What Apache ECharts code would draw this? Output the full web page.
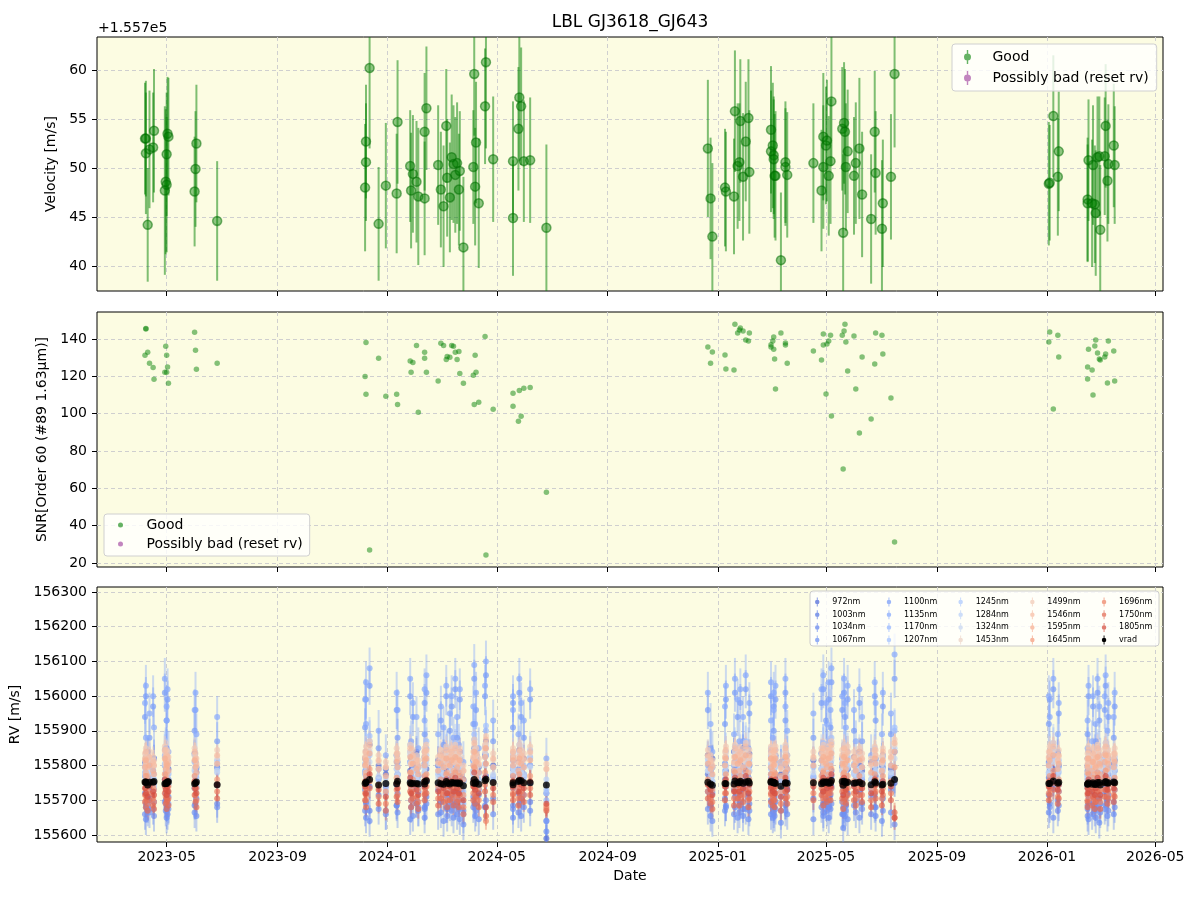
<!DOCTYPE html>
<html>
<head>
<meta charset="utf-8">
<title>LBL GJ3618_GJ643</title>
<script src="https://cdn.jsdelivr.net/npm/echarts@6/dist/echarts.min.js"></script>
<style>
  html, body { margin: 0; padding: 0; background: #fff; }
  #chart { width: 1200px; height: 900px; }
</style>
</head>
<body>
<div id="chart"></div>
<script>
// observation dates (one per spectrum)
const dates = [
  '2023-04-07','2023-04-08','2023-04-08','2023-04-10','2023-04-12','2023-04-16','2023-04-17','2023-04-29','2023-04-30','2023-05-01',
  '2023-05-01','2023-05-02','2023-05-03','2023-06-01','2023-06-02','2023-06-03','2023-06-26',
  '2023-12-07','2023-12-08','2023-12-08','2023-12-12','2023-12-22','2023-12-30','2024-01-11','2024-01-12','2024-01-26','2024-01-27',
  '2024-01-29','2024-02-02','2024-02-04','2024-02-11','2024-02-11','2024-02-13','2024-02-26','2024-02-29','2024-03-03','2024-03-06',
  '2024-03-07','2024-03-10','2024-03-12','2024-03-14','2024-03-16','2024-03-18','2024-03-20','2024-03-21','2024-03-25','2024-04-05',
  '2024-04-06','2024-04-07','2024-04-08','2024-04-11','2024-04-18','2024-04-19','2024-04-27','2024-05-19','2024-05-19','2024-05-25',
  '2024-05-26','2024-05-28','2024-05-31','2024-06-07','2024-06-25',
  '2024-12-21','2024-12-24','2024-12-26','2025-01-09','2025-01-10','2025-01-19','2025-01-20','2025-01-23','2025-01-25','2025-01-26',
  '2025-01-29','2025-02-01','2025-02-04','2025-02-05','2025-03-01','2025-03-01','2025-03-03','2025-03-04','2025-03-04','2025-03-05',
  '2025-03-06','2025-03-12','2025-03-17','2025-03-17','2025-03-19','2025-04-17','2025-04-26','2025-04-28','2025-04-28','2025-05-01',
  '2025-05-02','2025-05-04','2025-05-06','2025-05-07','2025-05-19','2025-05-20','2025-05-21','2025-05-22','2025-05-23','2025-05-25',
  '2025-06-01','2025-06-03','2025-06-07','2025-06-10','2025-06-20','2025-06-24','2025-06-25','2025-07-02','2025-07-03','2025-07-12',
  '2025-07-16',
  '2026-01-03','2026-01-04','2026-01-08','2026-01-13','2026-01-14','2026-02-15','2026-02-15','2026-02-16','2026-02-20','2026-02-21',
  '2026-02-23','2026-02-24','2026-02-26','2026-02-28','2026-03-01','2026-03-06','2026-03-07','2026-03-09','2026-03-10','2026-03-16',
  '2026-03-17'
];

// all RVs are in m/s relative to this offset (the "+1.557e5" of the top panel)
const rvOffset = 155700;

// velocity (also the vrad series of the bottom panel)
const velocity = [
  53.0,51.5,53.0,44.2,51.9,52.1,53.8,47.7,48.6,48.3,51.4,53.5,53.2,47.6,49.9,52.5,44.6,
  48.0,50.6,52.7,60.2,44.3,48.2,47.4,54.7,50.2,47.7,49.4,48.6,47.1,46.9,53.7,56.1,50.3,47.8,46.1,54.3,
  49.0,47.0,51.1,50.4,49.3,50.5,47.8,49.7,41.9,50.1,59.6,48.1,52.6,46.4,56.3,60.8,50.9,44.9,50.7,54.0,
  57.2,56.3,50.7,50.8,43.9,
  52.0,46.9,43.0,48.0,47.6,47.1,55.8,50.2,50.6,54.8,49.1,52.7,55.1,49.6,53.9,51.7,52.3,51.3,50.9,49.2,
  49.2,40.6,50.6,50.1,49.3,50.5,47.7,53.2,50.1,52.3,52.8,49.2,50.7,56.8,54.0,43.4,54.6,53.7,50.1,51.7,
  49.2,50.5,52.0,47.3,44.8,53.7,49.5,43.8,46.4,49.1,59.6,
  48.4,48.5,55.3,49.1,51.7,46.8,46.4,50.8,46.4,50.3,46.3,45.4,51.1,51.2,43.7,51.2,54.3,48.7,50.4,52.3,50.3
];
const velocityErr = [
  5.7,6.2,5.9,5.8,6.0,5.6,6.3,8.6,7.4,6.9,6.3,5.8,6.0,5.6,5.9,6.0,6.1,
  6.5,6.0,5.8,8.2,5.8,6.4,6.1,6.3,5.7,5.9,6.0,6.2,7.0,5.8,6.0,6.3,6.1,5.9,6.2,5.8,6.0,5.6,6.4,6.0,5.9,
  6.2,5.7,6.1,7.2,5.8,6.3,6.0,6.2,6.6,5.9,8.8,6.4,5.9,6.1,6.3,6.5,6.0,6.2,6.4,8.5,
  7.0,6.2,7.5,6.0,6.1,5.9,6.2,6.4,6.0,6.3,6.5,6.1,6.0,6.3,6.5,6.2,6.4,6.0,6.1,6.3,6.6,6.9,6.2,6.0,6.4,
  6.1,6.2,6.5,6.3,6.0,6.2,6.1,6.4,6.6,6.3,8.0,6.2,6.4,6.5,6.3,6.0,6.2,7.2,6.4,6.6,6.2,6.3,7.0,6.5,6.4,7.5,
  6.3,5.9,6.2,6.0,6.1,6.3,6.0,6.2,6.5,6.1,6.0,6.4,6.2,6.1,6.6,6.0,6.3,6.2,6.1,6.3,6.0
];
// SNR in order 60
const snr = [
  131.3,145.7,145.4,132.9,127.0,124.8,118.4,122.2,136.1,122.2,131.3,125.0,116.3,143.6,134.0,123.8,127.0,
  120.0,138.2,110.4,27.0,129.7,109.3,110.4,105.0,128.2,122.2,127.5,136.6,100.8,129.7,132.9,122.2,117.5,137.7,136.6,129.1,
  130.7,130.2,136.6,136.1,132.9,129.1,133.4,121.6,116.3,120.6,105.0,131.3,122.2,106.1,141.4,24.3,102.4,110.9,104.0,95.9,
  112.5,98.6,113.6,114.1,57.9,
  135.7,127.1,133.0,131.4,123.9,123.4,148.0,143.2,144.8,145.9,144.3,139.5,138.9,143.2,137.0,135.7,138.9,134.6,141.1,129.3,
  113.2,143.2,137.9,136.8,127.1,133.6,128.8,142.7,136.8,110.5,137.3,138.9,142.1,98.8,142.1,70.4,144.3,148.0,138.4,122.9,
  141.6,113.2,89.6,130.4,97.1,126.6,143.2,142.1,132.0,108.4,31.2,
  138.4,143.8,102.5,142.1,130.4,118.6,125.0,134.6,123.4,110.0,136.3,139.5,132.5,129.3,128.8,130.4,132.0,116.4,138.9,133.6,117.5
];

// per-band RVs (m/s relative to rvOffset)
const bandNames = ['972nm','1003nm','1034nm','1067nm','1100nm','1135nm','1170nm','1207nm','1245nm','1284nm',
  '1324nm','1453nm','1499nm','1546nm','1595nm','1645nm','1696nm','1750nm','1805nm'];
const bandErr = [40,38,40,45,55,60,60,55,50,45,40,35,30,28,28,25,25,28,35];

const rv972 = [110,125,95,140,105,85,120,60,130,100,75,115,90,135,110,80,95,
  120,140,90,160,100,75,130,110,85,120,95,140,70,105,125,90,115,80,135,100,120,65,110,90,130,105,85,140,60,115,150,95,120,80,130,170,100,125,90,110,145,85,120,100,-110,
  130,95,120,105,85,140,110,90,125,100,150,80,115,135,95,120,105,140,85,110,130,75,100,120,90,115,135,80,105,125,95,140,110,85,120,60,130,100,115,90,125,105,140,85,110,95,120,100,130,90,50,
  110,125,90,135,100,120,85,140,105,95,130,115,80,125,100,110,135,90,120,105,115];
const rv1003 = [70,45,90,30,65,80,50,100,40,75,55,85,60,35,70,95,45,
  80,55,100,40,65,90,45,75,110,50,85,60,95,40,70,55,100,65,45,80,60,90,50,75,105,40,70,85,55,60,120,45,80,95,65,130,55,90,70,40,85,60,75,50,20,
  75,50,95,60,40,85,70,105,55,80,45,90,65,100,50,75,60,85,45,95,70,110,55,80,40,65,90,50,75,100,60,85,45,70,95,30,80,55,65,90,50,75,100,60,40,85,70,55,95,65,140,
  65,90,50,80,45,75,100,55,85,60,40,95,70,50,80,65,90,45,75,60,85];
const rv1034 = [20,-10,35,-25,5,30,-5,45,0,15,-20,25,10,-15,40,5,-10,
  30,-5,50,-30,15,40,-15,20,55,0,35,-10,25,45,-20,10,30,-5,50,15,-25,35,5,20,-15,40,0,25,-30,10,60,-10,30,15,-20,70,5,35,-15,20,45,0,15,-5,-60,
  25,-15,40,5,-20,30,10,50,-5,20,-25,35,15,-10,45,0,25,-20,40,10,-5,55,20,-15,30,5,45,-10,25,0,35,-20,15,40,-5,-40,30,10,-15,20,45,0,25,-10,35,15,-20,40,5,30,60,
  15,-10,35,0,25,-15,40,10,-5,30,20,-20,45,5,-10,25,35,0,15,-5,30];
const rv1067 = [-40,-20,-55,-10,-35,-25,-45,-5,-30,-50,-15,-40,-25,-35,-10,-45,-20,
  -30,-50,-10,-60,-25,-40,-15,-35,-55,-20,-45,-5,-30,-50,-25,-10,-40,-35,-60,-20,-45,-15,-30,-50,-5,-40,-25,-55,-70,-20,-10,-45,-30,-55,-15,0,-40,-25,-50,-35,-10,-45,-20,-30,-90,
  -25,-45,-60,-30,-15,-40,-20,-50,-35,-10,-45,-25,-55,-30,-15,-40,-50,-20,-35,-45,-25,-65,-30,-10,-40,-55,-20,-35,-45,-15,-30,-50,-25,-10,-40,-80,-20,-45,-30,-55,-15,-35,-50,-25,-40,-20,-45,-60,-30,-35,-70,
  -35,-20,-50,-30,-15,-45,-25,-55,-40,-10,-30,-50,-20,-65,-35,-25,-15,-45,-30,-40,-20];
const rv1100 = [240,60,300,-20,180,270,120,310,20,230,150,290,-10,200,260,90,170,
  210,290,40,330,150,-30,260,180,300,70,240,130,-20,280,190,310,100,230,160,300,10,200,270,120,320,180,50,290,-40,220,350,140,260,30,300,360,170,280,210,90,310,240,180,290,-60,
  260,150,20,220,290,100,310,240,80,280,170,320,40,250,300,140,90,270,200,0,290,-30,230,310,130,180,280,60,320,230,150,290,210,340,260,-20,310,240,130,290,200,70,280,170,10,300,230,110,270,190,350,
  220,290,320,140,250,60,190,300,100,270,20,170,310,230,-10,260,330,120,240,180,270];
const rv1135 = [280,180,330,120,250,300,210,350,150,270,230,320,140,260,310,190,240,
  290,220,340,380,200,130,310,260,350,170,280,240,150,320,230,360,190,270,210,330,140,250,300,180,350,240,160,320,110,270,390,220,310,150,330,400,230,300,260,190,350,280,230,320,120,
  310,220,140,270,330,190,350,290,170,320,240,360,150,280,340,230,180,310,260,120,330,100,270,350,200,250,320,160,360,280,220,340,260,380,300,110,350,280,210,330,260,170,320,240,130,340,280,190,310,250,420,
  300,240,350,190,280,150,230,330,170,300,130,220,350,270,120,300,360,200,280,240,310];
const rv1170 = [80,40,120,20,95,60,30,130,55,105,25,85,45,110,70,35,90,
  85,120,40,170,60,20,110,75,140,35,100,65,25,120,80,150,45,95,70,130,30,85,115,50,145,75,40,120,-10,85,175,55,110,30,135,200,70,115,90,50,140,95,70,125,0,
  100,60,25,85,125,45,140,100,50,115,70,155,35,100,130,65,50,110,80,30,125,10,90,140,55,70,115,45,150,90,65,125,85,165,100,20,140,95,60,125,80,45,115,70,30,130,95,50,105,75,200,
  80,115,150,55,95,35,70,125,45,105,25,65,135,90,20,110,150,55,95,70,100];
const rv1207 = [100,70,135,50,110,85,60,145,80,125,55,105,75,130,95,65,115,
  105,140,65,185,90,50,130,100,160,70,120,90,55,140,105,170,75,115,95,150,60,110,135,80,165,100,70,140,25,110,190,85,130,60,155,215,95,135,115,80,160,120,100,145,30,
  120,85,55,105,140,75,155,120,80,135,95,170,65,120,150,90,80,130,105,60,145,40,110,155,85,95,135,75,165,115,90,145,105,180,120,50,160,115,85,140,105,75,135,95,60,150,115,80,125,100,210,
  105,135,165,85,115,65,95,145,75,125,55,90,150,110,50,130,165,85,115,95,125];
const rv1245 = [70,45,95,30,80,60,40,105,55,90,35,75,50,85,65,40,80,
  75,100,40,130,60,30,90,70,110,45,85,60,35,95,70,115,50,80,65,105,40,75,90,55,110,70,45,95,10,75,135,60,90,40,105,150,65,95,75,55,110,80,65,100,20,
  85,60,35,75,100,50,110,80,55,95,70,120,45,85,105,65,55,90,75,40,100,25,80,110,60,70,90,50,115,80,65,100,75,125,85,30,110,80,60,100,75,50,90,65,40,105,80,55,85,70,140,
  75,95,120,60,80,45,70,100,55,85,40,65,105,80,35,90,115,60,80,70,85];
const rv1284 = [95,80,115,70,105,90,75,125,85,110,70,100,80,110,95,75,105,
  100,120,75,140,90,65,115,95,130,80,110,90,70,115,100,130,85,105,95,125,75,100,115,85,130,95,80,115,55,100,145,90,115,75,125,160,95,115,100,85,130,105,95,120,60,
  110,90,70,100,120,85,130,105,85,115,95,135,80,110,125,95,85,115,100,75,120,65,105,130,90,100,115,85,130,105,95,120,100,140,110,70,130,105,90,120,100,85,115,95,75,125,105,85,110,100,150,
  100,115,135,90,105,80,95,120,85,110,75,95,125,105,70,115,130,90,105,95,110];
const rv1324 = [75,60,90,50,80,70,55,100,65,85,50,80,60,90,75,55,85,
  80,95,55,110,70,50,90,75,105,60,85,70,55,90,80,105,65,85,75,100,55,80,90,65,105,75,60,95,40,80,115,70,90,55,100,130,75,90,80,65,105,85,75,95,45,
  85,70,55,80,95,65,105,85,65,90,75,110,60,85,100,75,65,90,80,60,95,50,85,105,70,80,90,65,105,85,75,95,80,115,85,55,105,85,70,95,80,65,90,75,60,100,85,65,90,80,120,
  80,95,110,70,85,60,75,95,65,90,55,75,100,85,55,90,105,70,85,75,90];
const rv1453 = [115,100,130,95,120,110,100,140,105,125,95,120,105,130,115,100,125,
  120,135,100,150,110,95,130,115,140,105,125,110,95,130,120,140,105,125,115,135,100,120,130,110,140,115,105,130,85,120,155,110,130,100,140,165,115,130,120,105,140,125,115,135,90,
  125,110,95,120,135,105,140,125,105,130,115,145,100,125,135,115,105,130,120,100,135,90,125,140,110,120,130,105,140,125,115,135,120,150,125,95,140,125,110,135,120,105,130,115,100,135,125,105,130,120,160,
  120,135,145,110,125,100,115,135,105,130,95,115,140,125,95,130,145,110,125,115,130];
const rv1499 = [135,120,150,110,140,125,115,155,130,145,115,140,125,150,135,120,145,
  140,155,120,170,130,110,150,135,160,120,145,130,115,150,140,160,125,145,135,155,120,140,150,125,160,135,120,150,100,140,175,130,150,120,160,185,135,150,140,125,160,145,135,155,105,
  145,130,115,140,155,125,160,145,125,150,135,165,120,145,155,135,125,150,140,120,155,110,145,160,130,140,150,125,160,145,135,155,140,170,145,115,160,145,130,155,140,125,150,135,120,155,145,125,150,140,175,
  140,155,165,130,145,120,135,155,125,150,115,135,160,145,115,150,165,130,145,135,150];
const rv1546 = [120,105,140,95,125,110,100,145,115,130,100,125,110,140,120,105,130,
  125,140,105,160,115,95,135,120,150,105,130,115,100,140,125,145,110,130,120,145,105,125,140,110,150,120,105,140,85,125,165,115,135,105,150,175,120,140,125,110,145,130,120,140,90,
  130,115,100,125,145,110,150,130,110,140,120,155,105,130,145,120,110,140,125,105,145,95,130,150,115,125,140,110,150,130,120,145,125,160,130,100,150,130,115,140,125,110,140,120,105,145,130,110,140,125,165,
  125,140,155,115,130,105,120,145,110,135,100,120,150,130,100,135,155,115,130,120,135];
const rv1595 = [95,80,115,70,100,85,75,120,90,105,75,100,85,115,95,80,105,
  100,115,80,135,90,70,110,95,125,80,105,90,75,115,100,120,85,105,95,120,80,100,115,85,125,95,80,115,60,100,140,90,110,80,125,150,95,115,100,85,120,105,95,115,-20,
  105,90,75,100,120,85,125,105,85,115,95,130,80,105,120,95,85,115,100,80,120,70,105,125,90,100,115,85,125,105,95,120,100,135,105,75,125,105,90,115,100,85,115,95,80,120,105,85,115,100,140,
  100,115,130,90,105,80,95,120,85,110,75,95,125,105,75,110,130,90,105,95,110];
const rv1645 = [50,35,70,25,55,40,30,75,45,60,30,55,40,70,50,35,60,
  55,70,35,90,45,25,65,50,80,35,60,45,30,70,55,75,40,60,50,75,35,55,70,40,80,50,35,70,15,55,95,45,65,35,80,105,50,70,55,40,75,60,50,70,-15,
  60,45,30,55,75,40,80,60,40,70,50,85,35,60,75,50,40,70,55,35,75,25,60,80,45,55,70,40,80,60,50,75,55,90,60,30,80,60,45,70,55,40,70,50,35,75,60,40,70,55,95,
  55,70,85,45,60,35,50,75,40,65,30,50,80,60,30,65,85,45,60,50,65];
const rv1696 = [15,0,35,-10,20,5,-5,40,10,25,-5,20,5,35,15,0,25,
  20,35,0,55,10,-10,30,15,45,0,25,10,-5,35,20,40,5,25,15,40,0,20,35,5,45,15,0,35,-20,20,60,10,30,0,45,-60,15,35,20,5,40,25,15,35,-25,
  25,10,-5,20,40,5,45,25,5,35,15,50,0,25,40,15,5,35,20,0,40,-10,25,45,10,20,35,5,45,25,15,40,20,55,25,-5,45,25,10,35,20,5,35,15,0,40,25,5,35,20,-50,
  20,35,50,10,25,0,15,40,5,30,-5,15,45,25,-5,30,50,10,25,15,30];
const rv1750 = [-5,-20,15,-30,0,-15,-25,20,-10,5,-25,0,-15,15,-5,-20,5,
  0,15,-20,35,-10,-30,10,-5,25,-20,5,-10,-25,15,0,20,-15,5,-5,20,-20,0,15,-15,25,-5,-20,15,-40,0,40,-10,10,-20,25,-45,-5,15,0,-15,20,5,-5,15,-30,
  5,-10,-25,0,20,-15,25,5,-15,15,-5,30,-20,5,20,-5,-15,15,0,-20,20,-30,5,25,-10,0,15,-15,25,5,-5,20,0,35,5,-25,25,5,-10,15,0,-15,15,-5,-20,20,5,-15,15,0,-35,
  0,15,30,-10,5,-20,-5,20,-15,10,-25,-5,25,5,-25,10,30,-10,5,-5,10];
const rv1805 = [35,20,55,10,40,25,15,60,30,45,15,40,25,55,35,20,45,
  40,55,20,75,30,10,50,35,65,20,45,30,15,55,40,60,25,45,35,60,20,40,55,25,65,35,20,55,0,40,80,30,50,20,65,-20,35,55,40,25,60,45,35,55,-10,
  45,30,15,40,60,25,65,45,25,55,35,70,20,45,60,35,25,55,40,20,60,10,45,65,30,40,55,25,65,45,35,60,40,75,45,15,65,45,30,55,40,25,55,35,20,60,45,25,55,40,-50,
  40,55,70,30,45,20,35,60,25,50,15,35,65,45,15,50,70,30,45,35,50];

// axis ticks
const tickDates = ['2023-05-01','2023-09-01','2024-01-01','2024-05-01','2024-09-01','2025-01-01','2025-05-01','2025-09-01','2026-01-01','2026-05-01'];
const velTicks = [40, 45, 50, 55, 60];
const snrTicks = [20, 40, 60, 80, 100, 120, 140];
const rvTicks = [155600, 155700, 155800, 155900, 156000, 156100, 156200, 156300];

const bandRV = [rv972, rv1003, rv1034, rv1067, rv1100, rv1135, rv1170, rv1207, rv1245, rv1284,
  rv1324, rv1453, rv1499, rv1546, rv1595, rv1645, rv1696, rv1750, rv1805];
// coolwarm colours for the bands
const bandColors = ['#506bd9','#5a79e4','#6586ed','#6f92f3','#7a9ef8','#87aafc','#94b6ff','#a1c0ff','#aec9fd','#bbd2f8',
  '#c8d7f0','#ecd3c5','#f1cbb7','#f7bea4','#f7af91','#f49c7d','#ee8568','#e36c56','#d55042'];

const FONT = 'DejaVu Sans';
const BG = '#fcfce2';

function rgba(hex, a)
{
	const n = parseInt(hex.slice(1), 16);
	return 'rgba(' + ((n >> 16) & 255) + ',' + ((n >> 8) & 255) + ',' + (n & 255) + ',' + a + ')';
}

function fmtMonth(v)
{
	const d = new Date(v);
	return d.getUTCFullYear() + '-' + String(d.getUTCMonth() + 1).padStart(2, '0');
}

const times = dates.map((d) => +new Date(d));
const tickTimes = tickDates.map((d) => +new Date(d));
const xMin = +new Date('2023-02-12T19:00:00Z');
const xMax = +new Date('2026-05-09T14:00:00Z');

const gridLine = { show: true, lineStyle: { color: '#cfcfcf', type: [4, 3], width: 1 } };
const tickStyle = { show: true, inside: false, length: 5, lineStyle: { color: '#000', width: 1 } };
const labelStyle = { fontSize: 14, fontFamily: FONT, color: '#000' };

function makeX(gridIndex, withLabels)
{
	return {
		type: 'value', gridIndex: gridIndex, min: xMin, max: xMax,
		axisLine: { show: false, onZero: false },
		axisTick: Object.assign({ customValues: tickTimes }, tickStyle),
		axisLabel: Object.assign({ show: withLabels, customValues: tickTimes, formatter: fmtMonth, margin: 8 }, labelStyle),
		splitLine: gridLine,
		name: withLabels ? 'Date' : '',
		nameLocation: 'middle', nameGap: 27,
		nameTextStyle: labelStyle,
	};
}

function makeY(gridIndex, min, max, ticks, name, nameGap, formatter)
{
	return {
		type: 'value', gridIndex: gridIndex, min: min, max: max,
		axisLine: { show: false, onZero: false },
		axisTick: Object.assign({ customValues: ticks }, tickStyle),
		axisLabel: Object.assign({ customValues: ticks, formatter: formatter, margin: 10 }, labelStyle),
		splitLine: gridLine,
		name: name, nameLocation: 'middle', nameGap: nameGap,
		nameTextStyle: labelStyle,
	};
}

function errorBars(name, axisIndex, points, color, width)
{
	return {
		name: name, type: 'custom', xAxisIndex: axisIndex, yAxisIndex: axisIndex,
		clip: true, silent: true,
		data: points,
		encode: { x: 0, y: 1 },
		renderItem: (params, api) =>
		{
			const t = api.value(0);
			const v = api.value(1);
			const e = api.value(2);
			const lo = api.coord([t, v - e]);
			const hi = api.coord([t, v + e]);
			return {
				type: 'line',
				shape: { x1: lo[0], y1: lo[1], x2: hi[0], y2: hi[1] },
				style: { stroke: color, lineWidth: width },
			};
		},
	};
}

const series = [];

// top panel: velocity with error bars
series.push(errorBars('Good', 0, times.map((t, i) => [t, velocity[i], velocityErr[i]]), 'rgba(0,128,0,0.5)', 2));
series.push({
	name: 'Good', type: 'scatter', xAxisIndex: 0, yAxisIndex: 0, silent: true,
	data: times.map((t, i) => [t, velocity[i]]),
	symbolSize: 9,
	itemStyle: { color: 'rgba(0,128,0,0.55)', borderColor: 'rgba(0,110,0,0.65)', borderWidth: 1.5 },
});
series.push({ name: 'Possibly bad (reset rv)', type: 'scatter', xAxisIndex: 0, yAxisIndex: 0, data: [], itemStyle: { color: 'purple' } });

// middle panel: SNR
series.push({
	name: 'Good', type: 'scatter', xAxisIndex: 1, yAxisIndex: 1, silent: true,
	data: times.map((t, i) => [t, snr[i]]),
	symbolSize: 5.5,
	itemStyle: { color: 'rgba(0,128,0,0.6)' },
});
series.push({ name: 'Possibly bad (reset rv)', type: 'scatter', xAxisIndex: 1, yAxisIndex: 1, data: [], itemStyle: { color: 'purple' } });

// bottom panel: per-band RVs, then vrad
bandNames.forEach((name, k) =>
{
	const vals = bandRV[k];
	const pts = [];
	times.forEach((t, i) =>
	{
		if (vals[i] !== undefined) pts.push([t, vals[i], bandErr[k]]);
	});
	series.push(errorBars(name, 2, pts, rgba(bandColors[k], 0.42), 2));
	series.push({
		name: name, type: 'scatter', xAxisIndex: 2, yAxisIndex: 2, silent: true,
		data: pts.map((p) => [p[0], p[1]]),
		symbolSize: 6,
		itemStyle: { color: bandColors[k], opacity: 0.7 },
	});
});
series.push(errorBars('vrad', 2, times.map((t, i) => [t, velocity[i], velocityErr[i]]), '#000', 1.5));
series.push({
	name: 'vrad', type: 'scatter', xAxisIndex: 2, yAxisIndex: 2, silent: true,
	data: times.map((t, i) => [t, velocity[i]]),
	symbolSize: 7,
	itemStyle: { color: '#000' },
});

// legend icon: marker with a vertical error bar
const ebIcon = 'path://M4,0 L6,0 L6,20 L4,20 Z M5,5 A5,5 0 1,1 4.99,5 Z';

const legends = [
	{
		orient: 'vertical', left: 952, top: 44, padding: [6, 8, 6, 12], itemGap: 7,
		itemWidth: 14, itemHeight: 14, selectedMode: false,
		backgroundColor: 'rgba(255,255,255,0.8)', borderColor: '#d0d0d0', borderWidth: 1, borderRadius: 3,
		textStyle: { fontSize: 14, fontFamily: FONT, color: '#000', padding: [0, 0, 0, 13] },
		data: [
			{ name: 'Good', icon: ebIcon, itemStyle: { color: 'rgba(0,128,0,0.6)' } },
			{ name: 'Possibly bad (reset rv)', icon: ebIcon, itemStyle: { color: 'rgba(128,0,128,0.6)' } },
		],
	},
	{
		orient: 'vertical', left: 104, top: 514, padding: [4, 7, 5, 14], itemGap: 5,
		itemWidth: 10, itemHeight: 5, selectedMode: false,
		backgroundColor: 'rgba(255,255,255,0.8)', borderColor: '#d0d0d0', borderWidth: 1, borderRadius: 3,
		textStyle: { fontSize: 14, fontFamily: FONT, color: '#000', padding: [0, 0, 0, 16] },
		data: [
			{ name: 'Good', icon: 'circle', itemStyle: { color: 'rgba(0,128,0,0.6)' } },
			{ name: 'Possibly bad (reset rv)', icon: 'circle', itemStyle: { color: 'rgba(128,0,128,0.6)' } },
		],
	},
];

// bottom legend: five columns of four entries
const bandLegendNames = bandNames.concat(['vrad']);
const bandLegendColors = bandColors.map((c) => rgba(c, 0.75)).concat(['#000']);
for (let col = 0; col < 5; col++)
{
	const items = [];
	for (let r = 0; r < 4; r++)
	{
		const k = col * 4 + r;
		items.push({ name: bandLegendNames[k], icon: ebIcon, itemStyle: { color: bandLegendColors[k] } });
	}
	legends.push({
		orient: 'vertical', left: 815 + col * 71.7, top: 597.5, padding: 0, itemGap: 3.7,
		itemWidth: 14, itemHeight: 9, selectedMode: false, z: 6,
		textStyle: { fontSize: 8, lineHeight: 9, fontFamily: FONT, color: '#000', padding: [0, 0, 0, 3] },
		data: items,
	});
}

const grids = [
	{ left: 97, top: 37, width: 1066, height: 254 },
	{ left: 97, top: 312, width: 1066, height: 255 },
	{ left: 97, top: 587, width: 1066, height: 255 },
].map((g) => Object.assign({ show: true, backgroundColor: BG, borderColor: '#000', borderWidth: 1, containLabel: false }, g));

const option = {
	animation: false,
	backgroundColor: '#fff',
	grid: grids,
	xAxis: [makeX(0, false), makeX(1, false), makeX(2, true)],
	yAxis: [
		makeY(0, 37.45, 63.37, velTicks, 'Velocity [m/s]', 33, (v) => String(v)),
		makeY(1, 17.86, 154.5, snrTicks, 'SNR[Order 60 (#89 1.63μm)]', 44, (v) => String(v)),
		makeY(2, -120.2, 614.4, rvTicks.map((v) => v - rvOffset), 'RV [m/s]', 68, (v) => String(Math.round(v + rvOffset))),
	],
	legend: legends,
	graphic: [
		{ type: 'text', x: 630, y: 23, style: { text: 'LBL GJ3618_GJ643', font: '17px "DejaVu Sans"', fill: '#000', align: 'center', verticalAlign: 'middle' } },
		{ type: 'text', x: 98, y: 28, style: { text: '+1.557e5', font: '14px "DejaVu Sans"', fill: '#000', align: 'left', verticalAlign: 'middle' } },
		{ type: 'rect', z: 5, shape: { x: 810, y: 591, width: 349, height: 55, r: 3 }, style: { fill: 'rgba(255,255,255,0.8)', stroke: '#cccccc', lineWidth: 1 } },
	],
	series: series,
};

const chart = echarts.init(document.getElementById('chart'));
chart.setOption(option);
</script>
</body>
</html>
